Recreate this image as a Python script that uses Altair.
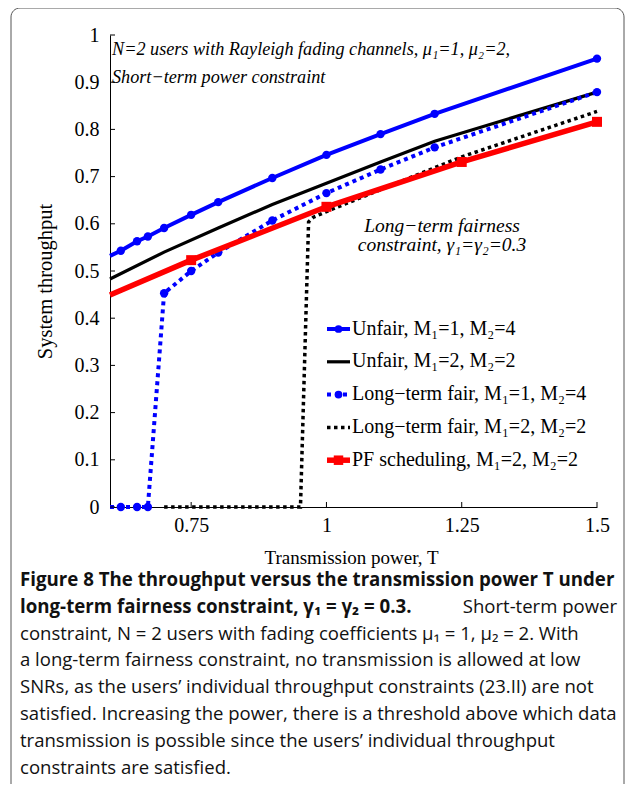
import altair as alt
import pandas as pd

# ---- data ----
T_UF14 = [0.6, 0.62, 0.65, 0.67, 0.7, 0.75, 0.8, 0.9, 1.0, 1.1, 1.2, 1.5]
Y_UF14 = [0.532, 0.543, 0.563, 0.573, 0.591, 0.619, 0.646, 0.697, 0.746, 0.790, 0.833, 0.950]
M_UF14 = [False, True, True, True, True, True, True, True, True, True, True, True]

T_UF22 = [0.6, 0.7, 0.8, 0.9, 1.0, 1.1, 1.2, 1.5]
Y_UF22 = [0.483, 0.540, 0.591, 0.641, 0.686, 0.731, 0.775, 0.879]

T_LF14 = [0.6, 0.62, 0.65, 0.67, 0.7, 0.75, 0.8, 0.9, 1.0, 1.1, 1.2, 1.5]
Y_LF14 = [0.0, 0.0, 0.0, 0.0, 0.453, 0.500, 0.539, 0.607, 0.665, 0.715, 0.762, 0.879]
M_LF14 = [False, True, True, True, True, True, True, True, True, True, True, True]

T_LF22 = [0.7, 0.952, 0.967, 0.976, 1.0, 1.25, 1.5]
Y_LF22 = [0.0, 0.0, 0.604, 0.614, 0.626, 0.742, 0.838]

T_PF = [0.6, 0.75, 1.0, 1.25, 1.5]
Y_PF = [0.449, 0.523, 0.636, 0.731, 0.816]
M_PF = [False, True, True, True, True]

X_TICKS = [0.75, 1.0, 1.25, 1.5]
Y_TICKS = [0, 0.1, 0.2, 0.3, 0.4, 0.5, 0.6, 0.7, 0.8, 0.9, 1.0]

LEGEND_LABELS = [
    "Unfair, M\u2081=1, M\u2082=4",
    "Unfair, M\u2081=2, M\u2082=2",
    "Long\u2212term fair, M\u2081=1, M\u2082=4",
    "Long\u2212term fair, M\u2081=2, M\u2082=2",
    "PF scheduling, M\u2081=2, M\u2082=2",
]

ANNOT_TOP = ["N=2 users with Rayleigh fading channels, \u03bc\u2081=1, \u03bc\u2082=2,",
             "Short\u2212term power constraint"]
ANNOT_MID = ["Long\u2212term fairness", "constraint, \u03b3\u2081=\u03b3\u2082=0.3"]

CAPTION_L1 = "Figure 8 The throughput versus the transmission power T under"
CAPTION_L2_BOLD = "long-term fairness constraint, \u03b3\u2081 = \u03b3\u2082 = 0.3."
CAPTION_L2_REG = "Short-term power"
CAPTION_REST = [
    "constraint, N = 2 users with fading coefficients \u03bc\u2081 = 1, \u03bc\u2082 = 2. With",
    "a long-term fairness constraint, no transmission is allowed at low",
    "SNRs, as the users\u2019 individual throughput constraints (23.II) are not",
    "satisfied. Increasing the power, there is a threshold above which data",
    "transmission is possible since the users\u2019 individual throughput",
    "constraints are satisfied.",
]

# ---- styling ----
W, H = 487, 472
SERIF = "Liberation Serif"
SANS = "Open Sans"
BLUE, RED, BLACK = "#0000FF", "#FF0000", "#000000"

xs = alt.Scale(domain=[0.6, 1.5], nice=False, zero=False)
ys = alt.Scale(domain=[0, 1], nice=False, zero=False)
xa = alt.Axis(values=X_TICKS, labelExpr="toString(datum.value)", title="Transmission power, T",
              ticks=False, labelPadding=8, labelFlush=False, labelFontSize=20,
              titleX=241, titleY=56, titleBaseline="alphabetic", titleFontSize=19)
ya = alt.Axis(values=Y_TICKS, labelExpr="toString(datum.value)", title="System throughput",
              ticks=False, labelPadding=11, labelFlush=False, labelFontSize=20,
              titleX=-59, titleY=246, titleBaseline="alphabetic", titleFontSize=20.5)

def frame(T, Y, M=None):
    d = {"T": T, "y": Y}
    if M is not None:
        d["m"] = M
    return pd.DataFrame(d)

one = pd.DataFrame({"k": [0]})

def enc():
    return dict(x=alt.X("T:Q", scale=xs, axis=xa), y=alt.Y("y:Q", scale=ys, axis=ya))

layers = []

# frame
layers.append(alt.Chart(one).mark_rect(
    fill=None, stroke="#555555", strokeWidth=1, cornerRadius=9, clip=False
).encode(x=alt.value(-99), x2=alt.value(514), y=alt.value(-27), y2=alt.value(800)))

# series
layers.append(alt.Chart(frame(T_UF22, Y_UF22)).mark_line(color=BLACK, strokeWidth=3.2).encode(**enc()))
layers.append(alt.Chart(frame(T_LF22, Y_LF22)).mark_line(color=BLACK, strokeWidth=3.5, strokeDash=[3.5, 3.5]).encode(**enc()))
df_lf14 = frame(T_LF14, Y_LF14, M_LF14)
layers.append(alt.Chart(df_lf14).mark_line(color=BLUE, strokeWidth=4, strokeDash=[4, 4]).encode(**enc()))
layers.append(alt.Chart(df_lf14).transform_filter("datum.m").mark_point(
    filled=True, shape="circle", size=70, color=BLUE, opacity=1).encode(**enc()))
df_pf = frame(T_PF, Y_PF, M_PF)
layers.append(alt.Chart(df_pf).mark_line(color=RED, strokeWidth=5.5).encode(**enc()))
layers.append(alt.Chart(df_pf).transform_filter("datum.m").mark_point(
    filled=True, shape="square", size=100, color=RED, opacity=1).encode(**enc()))
df_uf14 = frame(T_UF14, Y_UF14, M_UF14)
layers.append(alt.Chart(df_uf14).mark_line(color=BLUE, strokeWidth=4).encode(**enc()))
layers.append(alt.Chart(df_uf14).transform_filter("datum.m").mark_point(
    filled=True, shape="circle", size=70, color=BLUE, opacity=1).encode(**enc()))

# inward ticks
layers.append(alt.Chart(pd.DataFrame({"y": Y_TICKS})).mark_rule(color=BLACK, strokeWidth=1).encode(
    y=alt.Y("y:Q", scale=ys, axis=ya), x=alt.value(0), x2=alt.value(5)))
layers.append(alt.Chart(pd.DataFrame({"T": X_TICKS})).mark_rule(color=BLACK, strokeWidth=1).encode(
    x=alt.X("T:Q", scale=xs, axis=xa), y=alt.value(H), y2=alt.value(H - 5)))

# legend
leg_styles = [
    dict(color=BLUE, w=4, dash=None, shape="circle", size=60),
    dict(color=BLACK, w=3.2, dash=None, shape=None, size=0),
    dict(color=BLUE, w=4, dash=[4, 4], shape="circle", size=60),
    dict(color=BLACK, w=3.5, dash=[3.5, 3.5], shape=None, size=0),
    dict(color=RED, w=5.5, dash=None, shape="square", size=90),
]
for i, (lab, st) in enumerate(zip(LEGEND_LABELS, leg_styles)):
    ly = 294 + i * 32.8
    rk = dict(color=st["color"], strokeWidth=st["w"])
    if st["dash"]:
        rk["strokeDash"] = st["dash"]
    layers.append(alt.Chart(one).mark_rule(**rk).encode(
        x=alt.value(217), x2=alt.value(240), y=alt.value(ly)))
    if st["shape"]:
        layers.append(alt.Chart(one).mark_point(
            filled=True, shape=st["shape"], size=st["size"], color=st["color"], opacity=1
        ).encode(x=alt.value(228.5), y=alt.value(ly)))
    layers.append(alt.Chart(pd.DataFrame({"t": [lab]})).mark_text(
        font=SERIF, fontSize=20, align="left", baseline="alphabetic", color=BLACK
    ).encode(text="t:N", x=alt.value(242), y=alt.value(ly + 5.5)))

# annotations
for i, t in enumerate(ANNOT_TOP):
    layers.append(alt.Chart(pd.DataFrame({"t": [t]})).mark_text(
        font=SERIF, fontSize=18.2, fontStyle="italic", align="left", baseline="alphabetic", color=BLACK
    ).encode(text="t:N", x=alt.value(2), y=alt.value(20 + i * 28)))
for i, t in enumerate(ANNOT_MID):
    layers.append(alt.Chart(pd.DataFrame({"t": [t]})).mark_text(
        font=SERIF, fontSize=19.5, fontStyle="italic", align="center", baseline="alphabetic", color=BLACK
    ).encode(text="t:N", x=alt.value(332), y=alt.value(197 + i * 18.5)))

# caption
CAP_X0, CAP_X1, CAP_Y0, CAP_DY = -90, 507, 551, 26.8
def cap(t, x, y, bold, align="left"):
    return alt.Chart(pd.DataFrame({"t": [t]})).mark_text(
        font=SANS, fontSize=18.7 if bold else 18.55, fontWeight="bold" if bold else "normal",
        align=align, baseline="alphabetic", color="#111111", clip=False
    ).encode(text="t:N", x=alt.value(x), y=alt.value(y))

layers.append(cap(CAPTION_L1, CAP_X0, CAP_Y0, True))
layers.append(cap(CAPTION_L2_BOLD, CAP_X0, CAP_Y0 + CAP_DY, True))
layers.append(cap(CAPTION_L2_REG, CAP_X1, CAP_Y0 + CAP_DY, False, "right"))
for i, t in enumerate(CAPTION_REST):
    layers.append(cap(t, CAP_X0, CAP_Y0 + (i + 2) * CAP_DY, False))

chart = alt.layer(*layers).properties(
    width=W, height=H,
    autosize=alt.AutoSizeParams(type="none"),
    padding={"left": 102, "top": 27, "right": 28, "bottom": 277},
    background="white",
).configure_view(stroke=None).configure_axis(
    domainColor=BLACK, domainWidth=1,
    labelFont=SERIF, labelColor=BLACK,
    titleFont=SERIF, titleColor=BLACK, titleFontWeight="normal",
    grid=False,
)

chart.save("out.html", embed_options={"renderer": "svg", "actions": False})
